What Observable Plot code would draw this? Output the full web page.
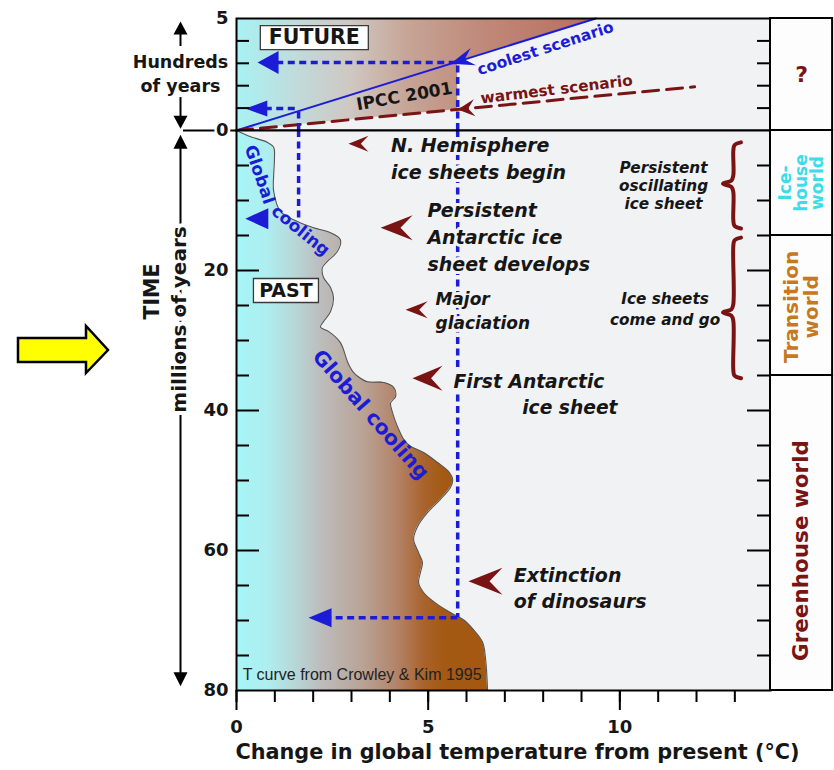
<!DOCTYPE html>
<html>
<head>
<meta charset="utf-8">
<script src="https://cdn.jsdelivr.net/npm/d3@7"></script>
<script src="https://cdn.jsdelivr.net/npm/@observablehq/plot@0.6"></script>
<style>
  body { margin: 0; background: #ffffff; }
  #chart { position: relative; width: 834px; height: 770px; font-family: "DejaVu Sans", sans-serif; }
  #chart svg { position: absolute; left: 0; overflow: visible; }
</style>
</head>
<body>
<div id="chart"></div>
<script>
// ================= DATA =================
// Past temperature curve (Crowley & Kim 1995)
const pastAgeMy = [0, 0.9, 1.7, 2.4, 4.1, 6.3, 8.7, 11.6, 13.0, 13.9, 14.6, 15.6, 17.3, 18.7, 19.6, 21.0, 22.4, 23.9, 25.9, 27.3, 28.1, 28.7, 30.3, 33.1, 34.4, 35.1, 35.9, 36.0, 36.7, 38.0, 38.9, 40.3, 42.3, 44.1, 45.1, 46.0, 47.4, 48.7, 49.9, 51.0, 52.7, 54.6, 56.6, 58.4, 60.3, 61.7, 63.1, 64.6, 66.0, 67.7, 69.1, 69.9, 71.3, 73.1, 75.6, 80];
const pastTempC = [0, 0.37, 0.81, 0.97, 0.99, 0.97, 0.97, 1.15, 1.59, 2.01, 2.45, 2.71, 2.63, 2.37, 2.24, 2.27, 2.45, 2.53, 2.45, 2.27, 2.19, 2.40, 2.71, 2.90, 3.03, 3.16, 3.42, 3.84, 4.10, 4.15, 4.02, 4.07, 4.20, 4.36, 4.54, 4.88, 5.24, 5.53, 5.64, 5.58, 5.32, 4.98, 4.72, 4.62, 4.75, 4.85, 4.80, 4.75, 4.88, 5.24, 5.66, 5.92, 6.18, 6.42, 6.50, 6.55];

// IPCC 2001 future scenarios (straight lines from the origin)
const scenarioNames = ["coolest scenario", "warmest scenario"];
const scenarioEndTempC = [9.37, 11.95];
const scenarioEndHundredsYr = [5, 1.95];

// Analog warming levels: future time reached vs. past age with same temperature
const analogTempC = [1.62, 5.77];
const analogFutureHundredsYr = [0.98, 3.04];
const analogPastAgeMy = [13.0, 69.6];

// Events
const eventLabels = ["N. Hemisphere\nice sheets begin", "Persistent\nAntarctic ice\nsheet develops", "Major\nglaciation", "First Antarctic\nice sheet", "Extinction\nof dinosaurs"];
const eventAgeMy = [1.9, 13.9, 25.6, 35.4, 64.4];

// Ice-sheet regimes (braces)
const iceLabels = ["Persistent\noscillating\nice sheet", "Ice sheets\ncome and go"];
const iceStartMy = [1.7, 15.3];
const iceTipMy = [7.6, 26.0];
const iceEndMy = [14.0, 35.4];

// Climate worlds (side panel)
const worldNames = ["Ice-\nhouse\nworld", "Transition\nworld", "Greenhouse world"];
const worldStartMy = [0, 15, 35];
const worldEndMy = [15, 35, 80];

// Ticks
const xTicks = [0, 1, 2, 3, 4, 5, 6, 7, 8, 9, 10, 11, 12, 13];
const xTickLabels = [0, 5, 10];
const pastTicks = [5, 10, 15, 25, 30, 35, 45, 50, 55, 65, 70, 75];
const pastMajorTicks = [20, 40, 60];
const pastTickLabels = [20, 40, 60, 80];
const futureTicks = [1, 2, 3, 4];
const futureTickLabels = [0, 5];

// ================= STYLE / LAYOUT =================
const FONT = '"DejaVu Sans", "Liberation Sans", sans-serif';
const THIN_FONT = '"Liberation Sans", Arial, sans-serif';
const BG = "#f1f2f4";
const BLUE = "#1c1cd6";
const DARKRED = "#7a1414";
const INK = "#161616";
const xMax = 13.93, sideMax = 15.55;

const pastStops = [[0, "#a6f5f7"], [0.8, "#aeeef0"], [1.5, "#b7d8d9"], [2.2, "#bdbdbd"], [3.3, "#b9a396"], [4.2, "#b38368"], [4.9, "#a9632c"], [5.4, "#a45a14"], [6.6, "#a45810"]];
const futureStops = [[0, "#a8f2f4"], [1.5, "#c0dcdc"], [3, "#cfc7c2"], [4.5, "#c6a496"], [6.5, "#c08878"], [9.4, "#b86e5e"]];

// custom symbols (tip at origin)
const poly = (pts) => ({ draw(ctx) { ctx.moveTo(pts[0][0], pts[0][1]); for (const p of pts.slice(1)) ctx.lineTo(p[0], p[1]); ctx.closePath(); } });
const triLeft = (len, wid) => poly([[0, 0], [len, -wid / 2], [len, wid / 2]]);
const triUp = (len, wid) => poly([[0, 0], [wid / 2, len], [-wid / 2, len]]);
const triDown = (len, wid) => poly([[0, 0], [wid / 2, -len], [-wid / 2, -len]]);
function chevron(len, wid, angleDeg = 0) {
  const a = angleDeg * Math.PI / 180, c = Math.cos(a), s = Math.sin(a);
  return poly([[0, 0], [len, -wid / 2], [len * 0.62, 0], [len, wid / 2]].map(([x, y]) => [x * c - y * s, x * s + y * c]));
}
const box = (w, h) => ({ draw(ctx) { ctx.rect(-w / 2, -h / 2, w, h); } });

function addGradient(svg, id, stops) {
  const sx = svg.scale("x");
  const tMax = stops[stops.length - 1][0];
  const g = d3.select(svg).insert("defs", ":first-child").append("linearGradient")
    .attr("id", id).attr("gradientUnits", "userSpaceOnUse")
    .attr("x1", sx.apply(0)).attr("x2", sx.apply(tMax)).attr("y1", 0).attr("y2", 0);
  for (const [t, c] of stops) g.append("stop").attr("offset", t / tMax).attr("stop-color", c);
}

// ================= DERIVED TABLES =================
const past = pastAgeMy.map((age, i) => ({ age, temp: pastTempC[i] }));
const scen = scenarioNames.map((name, i) => ({ name, t: scenarioEndTempC[i], h: scenarioEndHundredsYr[i] }));
const lineAt = (s, t) => s.h * t / s.t;
const analogs = analogTempC.map((t, i) => ({ t, h: analogFutureHundredsYr[i], age: analogPastAgeMy[i] }));
const longT = analogs[1].t;
const futureFill = [
  { t: 0, lo: 0 },
  { t: longT, lo: lineAt(scen[1], longT) },
  { t: longT, lo: lineAt(scen[0], longT) },
  { t: scen[0].t, lo: scen[0].h }
];
const braces = iceLabels.flatMap((label, i) => {
  const y1 = iceStartMy[i], ym = iceTipMy[i], y2 = iceEndMy[i], xs = 12.96;
  return [[xs + 0.2, y1], [xs + 0.03, y1 + 0.4], [xs, y1 + 1.2], [xs, ym - 1.2], [xs - 0.05, ym - 0.45], [xs - 0.27, ym],
          [xs - 0.05, ym + 0.45], [xs, ym + 1.2], [xs, y2 - 1.2], [xs + 0.03, y2 - 0.4], [xs + 0.2, y2]]
    .map(([x, y]) => ({ id: i, x, y }));
});

const boldText = { fontFamily: FONT, fontWeight: "bold" };
const haloText = { stroke: BG, strokeWidth: 6, paintOrder: "stroke" };
const evText = { textAnchor: "start", fontStyle: "italic", fill: INK, ...haloText, ...boldText };

// ================= FUTURE PANEL =================
const futurePlot = Plot.plot({
  width: 834, height: 130, marginLeft: 236, marginRight: 64, marginTop: 18, marginBottom: 0,
  x: { domain: [0, xMax], axis: null },
  y: { domain: [0, 5], axis: null },
  style: { overflow: "visible", fontFamily: FONT, background: "transparent" },
  marks: [
    Plot.frame({ fill: BG }),
    Plot.areaY(futureFill, { x: "t", y1: "lo", y2: 5, fill: "url(#futureGrad)" }),
    Plot.line([{ t: 0, h: 0 }, scen[0]], { x: "t", y: "h", stroke: BLUE, strokeWidth: 2 }),
    Plot.line([{ t: 0, h: 0 }, scen[1]], { x: "t", y: "h", stroke: DARKRED, strokeWidth: 3, strokeDasharray: "16,8" }),
    Plot.ruleX(analogs, { x: "t", y1: 0, y2: "h", stroke: BLUE, strokeWidth: 3.5, strokeDasharray: "7,4.5" }),
    Plot.ruleY(analogs, { y: "h", x1: (d, i) => [0.75, 1.05][i], x2: "t", stroke: BLUE, strokeWidth: 3.5, strokeDasharray: "7,4.5" }),
    Plot.dot([analogs[0]], { x: 0.23, y: "h", symbol: triLeft(22, 16), fill: BLUE, stroke: "none" }),
    Plot.dot([analogs[1]], { x: 0.55, y: "h", symbol: triLeft(21, 23), fill: BLUE, stroke: "none" }),
    Plot.dot([scen[0]], { x: 5.58, y: (d) => lineAt(d, 5.58), symbol: chevron(24, 18, -17.3), fill: BLUE, stroke: "none" }),
    Plot.dot([scen[1]], { x: 5.77, y: (d) => lineAt(d, 5.77), symbol: chevron(17, 17, -5.5), fill: DARKRED, stroke: "none" }),
    Plot.dot(["FUTURE"], { x: 2.03, y: 4.15, symbol: box(108, 24), fill: "#ffffff", stroke: "#3a3a3a", strokeWidth: 1.3 }),
    Plot.text(["FUTURE"], { x: 2.03, y: 4.15, text: (d) => d, fontSize: 20.5, fill: INK, ...boldText }),
    Plot.text(["IPCC 2001"], { x: 4.38, y: 1.52, text: (d) => d, rotate: -10, fontSize: 17, fill: INK, ...boldText }),
    Plot.text([scen[0]], { x: 8.06, y: 3.66, text: "name", rotate: -18, fill: BLUE, fontSize: 15.5, ...boldText }),
    Plot.text([scen[1]], { x: 8.35, y: 1.83, text: "name", rotate: -6.8, fill: DARKRED, fontSize: 15.3, ...boldText }),
    // inner ticks
    Plot.ruleY(futureTicks, { y: (d) => d, x1: 0, x2: 0, insetRight: -13, stroke: "black", strokeWidth: 2 }),
    Plot.ruleY(futureTicks, { y: (d) => d, x1: xMax, x2: xMax, insetLeft: -13, stroke: "black", strokeWidth: 2 }),
    Plot.frame({ stroke: "black", strokeWidth: 2 }),
    Plot.rect([0], { x1: xMax, x2: sideMax, y1: 0, y2: 5, fill: "#fdfdfd", stroke: "black", strokeWidth: 2 }),
    Plot.text(["?"], { x: (xMax + sideMax) / 2, y: 2.5, text: (d) => d, fill: DARKRED, fontSize: 22, ...boldText }),
    // left margin
    Plot.ruleY([0], { y: 0, x1: 0, x2: 0, insetLeft: -53, stroke: "black", strokeWidth: 2 }),
    Plot.text(futureTickLabels, { x: 0, y: (d) => d, dx: -8, text: (d) => String(d), textAnchor: "end", fontSize: 18, fill: INK, stroke: "#ffffff", strokeWidth: 5, paintOrder: "stroke", ...boldText }),
    Plot.text(["Hundreds", "of years"], { x: 0, y: [3.04, 1.96], dx: -56, text: (d) => d, fontSize: 17.5, fill: INK, ...boldText }),
    Plot.ruleX([0], { x: 0, y1: 3.75, y2: 4.5, dx: -56, stroke: "black", strokeWidth: 2 }),
    Plot.dot([0], { x: 0, y: 4.87, dx: -56, symbol: triUp(13, 14), fill: "black", stroke: "none" }),
    Plot.ruleX([0], { x: 0, y1: 1.47, y2: 0.5, dx: -56, stroke: "black", strokeWidth: 2 }),
    Plot.dot([0], { x: 0, y: 0.08, dx: -56, symbol: triDown(13, 14), fill: "black", stroke: "none" })
  ]
});
addGradient(futurePlot, "futureGrad", futureStops);
futurePlot.style.top = "0px";

// ================= PAST PANEL =================
const worlds = worldNames.map((name, i) => ({ name, start: worldStartMy[i], end: worldEndMy[i] }));
const ice = iceLabels.map((label, i) => ({ label, mid: (iceStartMy[i] + iceEndMy[i]) / 2 }));
const ev = eventLabels.map((label, i) => ({ label, age: eventAgeMy[i] }));
const evTipT = [2.92, 3.76, 4.41, 4.59, 6.05];
const evArrow = [[20, 16], [32, 25], [22, 17], [30, 25], [34, 27]];
const sideMid = (xMax + sideMax) / 2;

const pastPlot = Plot.plot({
  width: 834, height: 640, marginLeft: 236, marginRight: 64, marginTop: 0, marginBottom: 80,
  x: { domain: [0, xMax], axis: null },
  y: { domain: [0, 80], reverse: true, axis: null },
  style: { overflow: "visible", fontFamily: FONT, background: "transparent" },
  marks: [
    Plot.frame({ fill: BG }),
    Plot.areaX(past, { y: "age", x1: 0, x2: "temp", fill: "url(#pastGrad)", curve: "catmull-rom" }),
    Plot.lineX(past, { x: "temp", y: "age", stroke: "#555555", strokeWidth: 1.1, curve: "catmull-rom" }),
    // analog dashed lines
    Plot.ruleX(analogs, { x: "t", y1: 0, y2: "age", stroke: BLUE, strokeWidth: 3.5, strokeDasharray: "7,4.5" }),
    Plot.ruleY([analogs[1]], { y: "age", x1: 2.3, x2: "t", stroke: BLUE, strokeWidth: 3.5, strokeDasharray: "7,4.5" }),
    Plot.dot([analogs[1]], { x: 1.88, y: "age", symbol: triLeft(23, 19), fill: BLUE, stroke: "none" }),
    Plot.dot([analogs[0]], { x: 0.23, y: 12.6, symbol: triLeft(23, 21), fill: BLUE, stroke: "none" }),
    // global cooling labels
    Plot.text(["Global"], { x: 0.6, y: 6.3, text: (d) => d, rotate: 71, fontSize: 17, fill: BLUE, ...boldText }),
    Plot.text(["cooling"], { x: 1.67, y: 14.3, text: (d) => d, rotate: 39, fontSize: 17, fill: BLUE, ...boldText }),
    Plot.text(["Global cooling"], { x: 3.5, y: 40.6, text: (d) => d, rotate: 48.7, fontSize: 20.5, fill: BLUE, ...boldText }),
    // PAST box
    Plot.dot(["PAST"], { x: 1.29, y: 22.86, symbol: box(65, 24), fill: "#ffffff", stroke: "#3a3a3a", strokeWidth: 1.3 }),
    Plot.text(["PAST"], { x: 1.29, y: 22.86, text: (d) => d, fontSize: 19, fill: INK, ...boldText }),
    Plot.text(["T curve from Crowley & Kim 1995"], { x: 0.16, y: 77.7, text: (d) => d, textAnchor: "start", fontSize: 16, fill: "#222222", fontFamily: THIN_FONT }),
    // event arrows
    ...ev.map((d, i) => Plot.dot([d], { x: evTipT[i], y: "age", symbol: chevron(evArrow[i][0], evArrow[i][1]), fill: DARKRED, stroke: "none" })),
    // event texts
    Plot.text([ev[0]], { x: 4.03, y: 3.8, text: "label", lineHeight: 1.42, fontSize: 19, ...evText }),
    Plot.text([ev[1]], { x: 4.98, y: 15.0, text: "label", lineHeight: 1.42, fontSize: 19, ...evText }),
    Plot.text([ev[2]], { x: 5.19, y: 25.6, text: "label", lineHeight: 1.38, fontSize: 17, ...evText }),
    Plot.text([ev[3]], { x: 5.66, y: 36.0, text: (d) => d.label.split("\n")[0], fontSize: 18.7, ...evText }),
    Plot.text([ev[3]], { x: 9.94, y: 39.6, text: (d) => d.label.split("\n")[1], fontSize: 18.7, ...evText, textAnchor: "end" }),
    Plot.text([ev[4]], { x: 7.23, y: 65.2, text: "label", lineHeight: 1.37, fontSize: 19, ...evText }),
    // ice regimes
    Plot.text([ice[0]], { x: 11.14, y: "mid", text: "label", lineHeight: 1.17, fontSize: 15.3, fontStyle: "italic", fill: INK, ...boldText }),
    Plot.text([ice[1]], { x: 11.18, y: "mid", text: "label", lineHeight: 1.35, fontSize: 15.3, fontStyle: "italic", fill: INK, ...boldText }),
    Plot.line(braces, { x: "x", y: "y", z: "id", stroke: DARKRED, strokeWidth: 4, strokeLinecap: "round", curve: "catmull-rom" }),
    // inner ticks
    Plot.ruleY(pastTicks, { y: (d) => d, x1: 0, x2: 0, insetRight: -13, stroke: "black", strokeWidth: 2 }),
    Plot.ruleY(pastMajorTicks, { y: (d) => d, x1: 0, x2: 0, insetRight: -23, stroke: "black", strokeWidth: 2 }),
    Plot.ruleY(pastTicks, { y: (d) => d, x1: xMax, x2: xMax, insetLeft: -13, stroke: "black", strokeWidth: 2 }),
    Plot.ruleY(pastMajorTicks, { y: (d) => d, x1: xMax, x2: xMax, insetLeft: -23, stroke: "black", strokeWidth: 2 }),
    Plot.frame({ stroke: "black", strokeWidth: 2 }),
    // bottom axis
    Plot.ruleX(xTicks, { x: (d) => d, y1: 80, y2: 80, insetBottom: -12, stroke: "black", strokeWidth: 2 }),
    Plot.ruleX(xTickLabels, { x: (d) => d, y1: 80, y2: 80, insetBottom: -20, stroke: "black", strokeWidth: 2 }),
    Plot.text(xTickLabels, { x: (d) => d, y: 80, dy: 37, text: (d) => String(d), fontSize: 18, fill: INK, ...boldText }),
    Plot.text(["Change in global temperature from present (°C)"], { x: 7.33, y: 80, dy: 62, text: (d) => d, fontSize: 20.8, fill: INK, ...boldText }),
    // side panel
    Plot.rect(worlds, { x1: xMax, x2: sideMax, y1: "start", y2: "end", fill: "#fdfdfd", stroke: "black", strokeWidth: 2 }),
    Plot.text([worlds[0]], { x: sideMid, y: 7.5, text: "name", rotate: -90, lineHeight: 0.95, fontSize: 17, fill: "#3edbea", ...boldText }),
    Plot.text([worlds[1]], { x: sideMid, y: 25.2, text: "name", rotate: -90, lineHeight: 1.0, fontSize: 20, fill: "#c7791f", ...boldText }),
    Plot.text([worlds[2]], { x: sideMid, y: 60, text: "name", rotate: -90, fontSize: 21.5, fill: DARKRED, ...boldText }),
    // left axis labels and title
    Plot.text(pastTickLabels, { x: 0, y: (d) => d, dx: -8, text: (d) => String(d), textAnchor: "end", fontSize: 18, fill: INK, ...boldText }),
    Plot.text(["TIME"], { x: 0, y: 23.0, dx: -84, text: (d) => d, rotate: -90, fontSize: 20.5, fill: INK, ...boldText }),
    Plot.ruleX([0], { x: 0, y1: 1.8, y2: 78, dx: -56, stroke: "black", strokeWidth: 2 }),
    Plot.text(["millions of years"], { x: 0, y: 27.0, dx: -57, text: (d) => d, rotate: -90, fontSize: 20, fill: INK, stroke: "#ffffff", strokeWidth: 8, paintOrder: "stroke", ...boldText }),
    Plot.dot([0], { x: 0, y: 0.6, dx: -56, symbol: triUp(14, 14), fill: "black", stroke: "none" }),
    Plot.dot([0], { x: 0, y: 79.4, dx: -56, symbol: triDown(14, 14), fill: "black", stroke: "none" })
  ]
});
addGradient(pastPlot, "pastGrad", pastStops);
pastPlot.style.top = "130px";

const chart = document.getElementById("chart");
chart.append(futurePlot, pastPlot);

// decorative yellow pointer arrow at the left edge
const deco = d3.create("svg").attr("width", 834).attr("height", 770).style("top", "0px").style("pointer-events", "none");
deco.append("polygon").attr("points", "18,338 86,338 86,326 108,350 86,373 86,362 18,362")
  .attr("fill", "#ffff00").attr("stroke", "#000").attr("stroke-width", 2.5).attr("stroke-linejoin", "miter");
chart.append(deco.node());
</script>
</body>
</html>
